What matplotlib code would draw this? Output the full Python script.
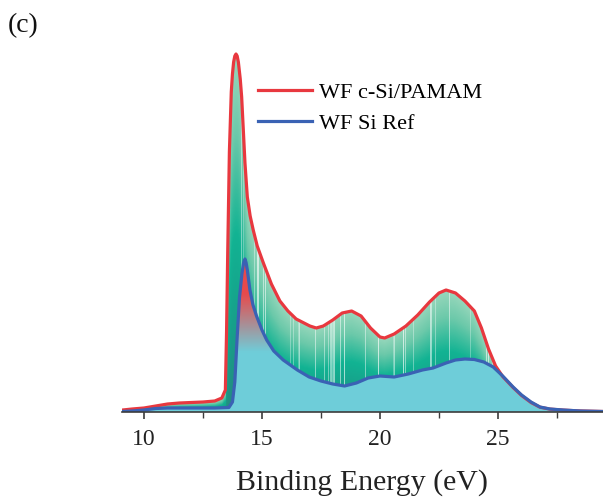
import numpy as np
import matplotlib
matplotlib.use("Agg")
import matplotlib.pyplot as plt
from matplotlib.colors import LinearSegmentedColormap, to_rgb
from matplotlib.lines import Line2D

# Work-function spectra (binding energy in eV, intensity in a.u.)
energy_pamam = [9.1, 9.5, 10.0, 10.5, 11.0, 11.5, 12.0, 12.5, 13.0, 13.3, 13.45,
                13.5, 13.55, 13.62, 13.7, 13.75, 13.8, 13.85, 13.9, 13.95, 14.0,
                14.08, 14.14, 14.21, 14.28, 14.38, 14.5, 14.63, 14.8, 15.06, 15.4,
                15.76, 16.1, 16.45, 17.03, 17.3, 17.6, 18.0, 18.4, 18.8, 19.2,
                19.6, 20.0, 20.2, 20.6, 21.1, 21.6, 22.1, 22.5, 22.8, 23.2, 23.6,
                24.0, 24.3, 24.6, 24.9, 25.2, 25.64, 26.0, 26.4, 26.78, 27.2,
                27.76, 28.5, 29.45]
wf_pamam = [2, 3, 4, 6, 8, 9, 9.5, 10, 11, 14, 22,
            80, 160, 260, 320, 338, 350, 356, 358, 356, 350,
            333, 315, 282, 249, 215, 196, 182, 166, 149, 128,
            111, 101, 93, 86, 84, 86, 92, 99, 101, 96,
            84, 75, 74, 78, 86, 97, 110, 119, 122, 119, 111,
            101, 84, 63, 46, 35.5, 24.5, 16.5, 9.5, 4.8, 2.9,
            1.9, 1.0, 0.5]

energy_ref = [9.1, 9.5, 10.0, 10.5, 11.0, 12.0, 13.0, 13.6, 13.75, 13.85, 13.95,
              14.05, 14.15, 14.22, 14.28, 14.33, 14.38, 14.49, 14.62, 14.77, 15.0,
              15.2, 15.5, 15.9, 16.5, 17.0, 17.5, 18.0, 18.5, 19.0, 19.5, 20.0,
              20.6, 21.2, 21.8, 22.25, 22.8, 23.2, 23.6, 24.0, 24.4, 24.8, 25.2,
              25.64, 26.0, 26.4, 26.78, 27.2, 27.76, 28.5, 29.45]
wf_ref = [0.5, 1, 2, 3.5, 4, 4, 4, 4.5, 10, 30, 75,
          115, 138, 149, 153, 149, 142, 122, 107, 96, 82,
          72, 61, 52, 42, 35, 31, 28, 26, 29, 34, 36,
          35, 38, 42, 44, 49, 52, 53, 52.5, 50, 45, 36,
          25, 17, 10, 5, 3, 2, 1, 0.5]

xticks = [10, 15, 20, 25]
xminor = [12.5, 17.5, 22.5, 27.5]

RED = "#e8383f"
BLUE = "#3a62b4"
CYAN = "#6fcdd9"

plt.rcParams["font.family"] = ["Liberation Serif", "DejaVu Serif"]

fig = plt.figure(figsize=(6.03, 5.0), dpi=100)
ax = fig.add_axes([122 / 603, 88 / 500, 1 - 122 / 603, 380 / 500])
xmin, xmax = 9.07, 29.45
ymin, ymax = 0, 380
ax.set_xlim(xmin, xmax)
ax.set_ylim(ymin, ymax)

# raster grids for gradient fills (one column per pixel)
nx, ny = 481, 760
gx = np.linspace(xmin, xmax, nx)
gy = np.linspace(ymin, ymax, ny)
GX, GY = np.meshgrid(gx, gy)

# fill under the reference curve: cyan, turning red where it rises high
cyan = np.array(to_rgb(CYAN))
red = np.array(to_rgb("#e84a4c"))
s = np.clip((GY - 60) / 58, 0, 1)[..., None]
img_ref = cyan * (1 - s) + red * s
fill_ref = ax.fill_between(energy_ref, wf_ref, 0, facecolor="none", edgecolor="none")
im1 = ax.imshow(img_ref, extent=(xmin, xmax, ymin, ymax), origin="lower",
                aspect="auto", interpolation="bilinear", zorder=1)
im1.set_clip_path(fill_ref.get_paths()[0], ax.transData)

# fill between the two curves: green gradient with light vertical streaks
top = np.interp(gx, energy_pamam, wf_pamam)
t = np.clip(GY / np.maximum(top, 1)[None, :], 0, 1)
green = LinearSegmentedColormap.from_list(
    "wfgreen", [(0.0, "#258a80"), (0.25, "#17a08a"), (0.5, "#12b393"),
                (0.78, "#6cc9aa"), (1.0, "#98d7bc")])
img_g = green(t)[..., :3]
idx = np.arange(nx)
h = np.abs(np.modf(np.sin(idx * 12.9898 + 78.233) * 43758.5453)[0])
streak = np.where(h > 0.84, 0.25 + 0.4 * (h - 0.84) / 0.16, 0.0)
streak = np.where((gx > 14.0) & (gx < 24.9), streak, 0.0)
img_g = img_g * (1 - streak[None, :, None]) + streak[None, :, None]
fill_g = ax.fill_between(energy_pamam, wf_pamam, 0, facecolor="none", edgecolor="none")
im2 = ax.imshow(img_g, extent=(xmin, xmax, ymin, ymax), origin="lower",
                aspect="auto", interpolation="nearest", zorder=0.9)
im2.set_clip_path(fill_g.get_paths()[0], ax.transData)

ax.plot(energy_pamam, wf_pamam, color=RED, lw=2.3, zorder=3, solid_joinstyle="round")
ax.plot(energy_ref, wf_ref, color=BLUE, lw=2.3, zorder=4, solid_joinstyle="round")

for side in ("left", "top", "right"):
    ax.spines[side].set_visible(False)
ax.spines["bottom"].set_color("#3c3c3c")
ax.spines["bottom"].set_linewidth(1.2)
ax.spines["bottom"].set_zorder(5)
ax.set_yticks([])
ax.set_xticks(xticks)
ax.set_xticks(xminor, minor=True)
ax.set_xticklabels([str(v) for v in xticks])
ax.tick_params(axis="x", which="major", direction="out", length=5, width=1.2,
               color="#3c3c3c", labelsize=17, pad=7, labelcolor="#222222")
ax.tick_params(axis="x", which="minor", direction="out", length=4, width=1.0,
               color="#3c3c3c")
ax.set_xlabel("Binding Energy (eV)", fontsize=21.5, color="#222222", labelpad=14)

handles = [Line2D([], [], color=RED, lw=2.3), Line2D([], [], color=BLUE, lw=2.3)]
ax.legend(handles, ["WF c-Si/PAMAM", "WF Si Ref"], loc="center left",
          bbox_to_anchor=(258 / 603, 1 - 108 / 500), bbox_transform=fig.transFigure,
          frameon=False, fontsize=16, handlelength=2.45, handletextpad=0.3,
          labelspacing=0.45, borderpad=0, borderaxespad=0)

fig.text(8 / 603, 1 - 26 / 500, "(c)", fontsize=20, va="center", ha="left",
         color="#111111")

fig.savefig("out.png", dpi=100)
